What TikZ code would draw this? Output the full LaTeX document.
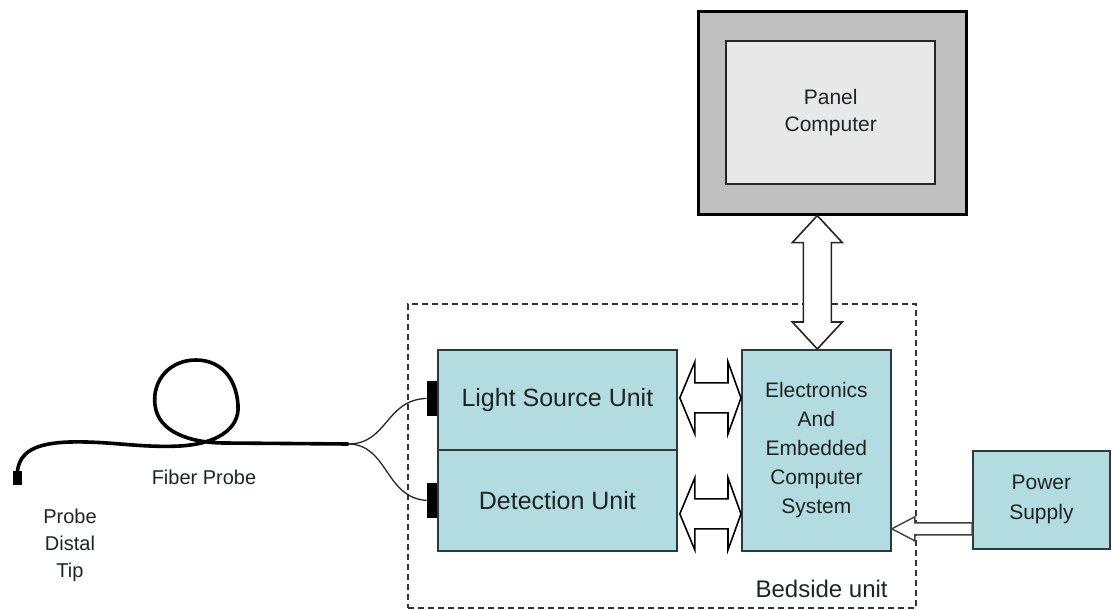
\documentclass[tikz,border=0pt]{standalone}
\usepackage{fontspec}
\setmainfont{Liberation Sans}
\usetikzlibrary{calc}
\definecolor{boxfill}{RGB}{178,220,224}
\definecolor{boxline}{RGB}{45,58,60}
\definecolor{monout}{RGB}{192,192,192}
\definecolor{monin}{RGB}{232,232,232}
\definecolor{txt}{RGB}{30,36,38}
\begin{document}
\begin{tikzpicture}[x=1pt,y=-1pt,
  unit/.style={draw=boxline, line width=1.8pt, fill=boxfill, inner sep=0pt, anchor=north west, align=center, text=txt},
  harrow/.style={draw=black, line width=1.6pt, fill=white, line join=miter},
  parrow/.style={draw=black!75, line width=1.4pt, fill=white, line join=miter},
  fiber/.style={draw=black, line width=3.6pt, line cap=round},
  thinfiber/.style={draw=black!85, line width=1.3pt},
  conn/.style={fill=black, inner sep=0pt, minimum width=10pt, minimum height=35pt},
  lbl/.style={align=center, inner sep=0pt, text=txt}]
\useasboundingbox (0,0) rectangle (1112,610);

% bedside dashed box
\node[draw=black!80, line width=1.6pt, dash pattern=on 6pt off 4pt, minimum width=508pt, minimum height=304pt, anchor=north west, inner sep=0pt] (bed) at (407,303) {};
\node[lbl, font=\fontsize{24}{28}\selectfont] (bedlbl) at ($(bed.south east)+(-95,-20)$) {Bedside unit};

% monitor
\node[draw=black, line width=2.6pt, fill=monout, minimum width=268pt, minimum height=203pt, anchor=north west, inner sep=0pt] (mon) at (697,10) {};
\node[draw=black!85, line width=2.4pt, fill=monin, minimum width=209pt, minimum height=143pt, anchor=north west, inner sep=0pt, align=center, text=txt, font=\fontsize{21}{27}\selectfont] (scr) at (725,40) {Panel\\Computer};

% units
\node[unit, minimum width=239pt, minimum height=100pt, font=\fontsize{25}{30}\selectfont] (ls) at (437,349) {Light Source Unit};
\node[unit, minimum width=239pt, minimum height=101pt, font=\fontsize{25}{30}\selectfont] (det) at (437,449) {Detection Unit};
\node[unit, minimum width=149pt, minimum height=201pt, font=\fontsize{21}{29}\selectfont] (ec) at (741,349) {Electronics\\And\\Embedded\\Computer\\System};
\node[unit, minimum width=137pt, minimum height=98pt, font=\fontsize{21}{30}\selectfont] (ps) at (972,450) {Power\\Supply};

% connectors on light unit
\node[conn, anchor=east] (c1) at ($(ls.west)+(0,-1.5)$) {};
\node[conn, anchor=east] (c2) at (det.west) {};

% probe tip
\node[fill=black, inner sep=0pt, minimum width=9pt, minimum height=14pt] (tip) at (17.5,478) {};

% fiber with loop
\draw[fiber] (tip.north) .. controls (20,452) and (35,443) .. (70,442)
  .. controls (110,441) and (140,448) .. (180,446)
  .. controls (215,444) and (240,430) .. (238,405)
  .. controls (236,375) and (218,360) .. (196,360)
  .. controls (170,360) and (152,380) .. (155,405)
  .. controls (158,432) and (190,443) .. (225,443)
  -- (348,444) coordinate (split);
\draw[thinfiber] (split) .. controls (388,444) and (385,400) .. (c1.west);
\draw[thinfiber] (split) .. controls (388,444) and (385,498) .. (c2.west);

\node[lbl, font=\fontsize{20}{24}\selectfont] (fp) at (204,477) {Fiber Probe};
\node[lbl, font=\fontsize{20}{27}\selectfont] (pdt) at (70,545) {Probe\\Distal\\Tip};

% horizontal double arrows
\coordinate (a1) at ($(ls.east)+(2,-2)$);
\coordinate (b1) at (ec.west |- a1);
\draw[harrow] (a1) -- ++(15,-36) -- ++(0,21) -- ($(b1)+(-13,-15)$) -- ++(0,-21) -- (b1)
  -- ++(-13,36) -- ++(0,-21) -- ($(a1)+(15,15)$) -- ++(0,21) -- cycle;
\coordinate (a2) at ($(det.east)+(2,13.5)$);
\coordinate (b2) at (ec.west |- a2);
\draw[harrow] (a2) -- ++(15,-36) -- ++(0,21) -- ($(b2)+(-13,-15)$) -- ++(0,-21) -- (b2)
  -- ++(-13,36) -- ++(0,-21) -- ($(a2)+(15,15)$) -- ++(0,21) -- cycle;

% vertical double arrow
\coordinate (v1) at ($(mon.south)+(-15,0)$);
\coordinate (v2) at (v1 |- ec.north);
\draw[harrow, draw=black!85] (v1) -- ++(25,27) -- ++(-11,0) -- ($(v2)+(14,-27)$) -- ++(11,0) -- (v2)
  -- ++(-25,-27) -- ++(11,0) -- ($(v1)+(-14,27)$) -- ++(-11,0) -- cycle;

% power arrow
\coordinate (pt) at ($(ec.south east)+(0,-23)$);
\coordinate (pe) at (ps.west |- pt);
\draw[parrow] (pt) -- ++(23,-12) -- ++(0,6) -- ($(pe)+(0,-6)$) -- ($(pe)+(0,6)$)
  -- ($(pt)+(23,6)$) -- ++(0,6) -- cycle;
\end{tikzpicture}
\end{document}
